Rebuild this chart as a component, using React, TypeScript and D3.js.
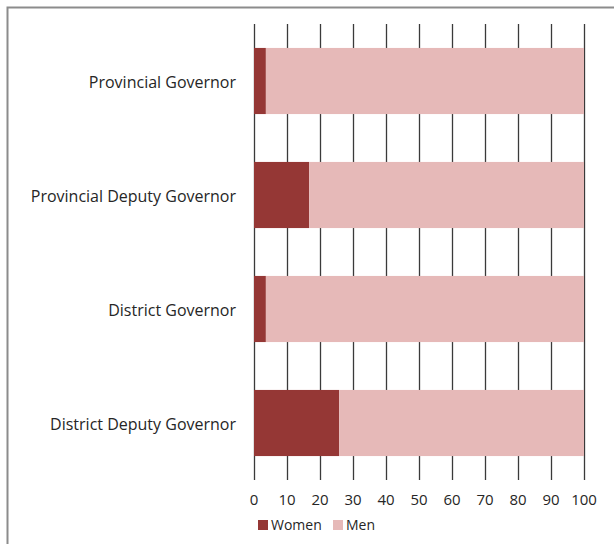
import React from "react";
import * as d3 from "d3";

const categories = [
  "Provincial Governor",
  "Provincial Deputy Governor",
  "District Governor",
  "District Deputy Governor",
];
const women = [3.6, 16.7, 3.6, 25.8];
const men = [96.4, 83.3, 96.4, 74.2];
const ticks = [0, 10, 20, 30, 40, 50, 60, 70, 80, 90, 100];
const seriesNames = ["Women", "Men"];
const colors = ["#953735", "#E6B9B8"];

const W = 614;
const H = 544;
const FONT = "'Open Sans', 'DejaVu Sans', sans-serif";

export default function App() {
  const x = d3.scaleLinear().domain([0, 100]).range([254, 584]);
  const y = d3
    .scaleBand<string>()
    .domain(categories)
    .range([24, 480])
    .paddingInner(0.42)
    .paddingOuter(0.21);

  const stacked = categories.map((c, i) => ({
    c,
    segs: [
      { s: 0, x0: 0, x1: women[i] },
      { s: 1, x0: women[i], x1: women[i] + men[i] },
    ],
  }));

  return (
    <svg
      width={W}
      height={H}
      style={{ position: "absolute", left: 0, top: 0, background: "#fff" }}
    >
      <rect
        x={7.5}
        y={7.5}
        width={W + 20}
        height={H + 20}
        fill="#fff"
        stroke="#8c8c8c"
        strokeWidth={2}
      />
      {ticks.map((t) => (
        <line
          key={t}
          x1={Math.round(x(t)) + 0.5}
          x2={Math.round(x(t)) + 0.5}
          y1={24}
          y2={480}
          stroke="#3a3a3a"
          strokeWidth={1.3}
        />
      ))}
      {stacked.map((d) =>
        d.segs.map((s) => (
          <rect
            key={d.c + s.s}
            x={x(s.x0)}
            y={y(d.c)}
            width={x(s.x1) - x(s.x0)}
            height={y.bandwidth()}
            fill={colors[s.s]}
          />
        ))
      )}
      {categories.map((c) => (
        <text
          key={c}
          x={236}
          y={(y(c) as number) + y.bandwidth() / 2 + 1}
          dy="0.35em"
          textAnchor="end"
          fontFamily={FONT}
          fontSize={16}
          fill="#262626"
        >
          {c}
        </text>
      ))}
      {ticks.map((t) => (
        <text
          key={"l" + t}
          x={x(t)}
          y={500}
          dy="0.35em"
          textAnchor="middle"
          fontFamily={FONT}
          fontSize={15}
          fill="#262626"
        >
          {t}
        </text>
      ))}
      {seriesNames.map((n, i) => {
        const lx = [258, 333][i];
        return (
          <g key={n}>
            <rect x={lx} y={520} width={10} height={10} fill={colors[i]} />
            <text
              x={lx + 13}
              y={525}
              dy="0.35em"
              fontFamily={FONT}
              fontSize={14}
              fill="#262626"
            >
              {n}
            </text>
          </g>
        );
      })}
    </svg>
  );
}
